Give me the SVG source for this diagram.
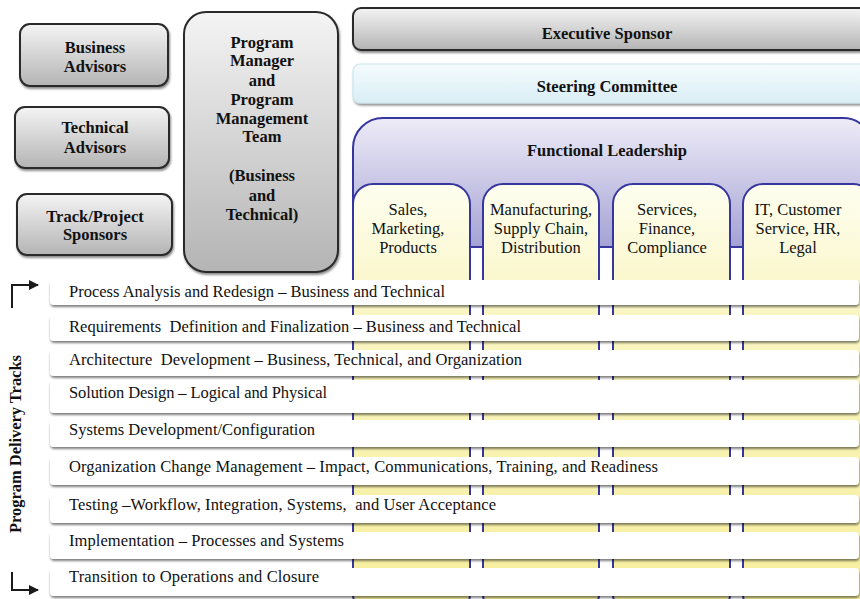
<svg xmlns="http://www.w3.org/2000/svg" width="860" height="599" viewBox="0 0 860 599">
<defs>
  <linearGradient id="gGray" x1="0" y1="0" x2="0" y2="1">
    <stop offset="0" stop-color="#f4f4f4"/>
    <stop offset="1" stop-color="#b4b4b4"/>
  </linearGradient>
  <linearGradient id="gBlue" x1="0" y1="0" x2="0" y2="1">
    <stop offset="0" stop-color="#f4fbfd"/>
    <stop offset="1" stop-color="#d9eef5"/>
  </linearGradient>
  <linearGradient id="gLav" x1="0" y1="0" x2="0" y2="1">
    <stop offset="0" stop-color="#eeecf7"/>
    <stop offset="1" stop-color="#a4a2d4"/>
  </linearGradient>
  <linearGradient id="gYel" gradientUnits="userSpaceOnUse" x1="0" y1="184" x2="0" y2="600">
    <stop offset="0" stop-color="#fefef0"/>
    <stop offset="0.3" stop-color="#faf6c4"/>
    <stop offset="1" stop-color="#f6ee9c"/>
  </linearGradient>
  <filter id="sh" x="-5%" y="-10%" width="110%" height="140%">
    <feDropShadow dx="1" dy="2" stdDeviation="1" flood-color="#000" flood-opacity="0.45"/>
  </filter>
  <filter id="shr" x="-2%" y="-20%" width="104%" height="160%">
    <feDropShadow dx="0.5" dy="2" stdDeviation="0.8" flood-color="#000" flood-opacity="0.5"/>
  </filter>
  <marker id="arr" viewBox="0 0 10 10" refX="9" refY="5" markerWidth="5" markerHeight="5" orient="auto" markerUnits="strokeWidth">
    <path d="M0,0 L10,5 L0,10 z" fill="#1a1a1a"/>
  </marker>
</defs>
<style>
  .gbox { fill: url(#gGray); stroke: #2a2a2a; stroke-width: 2; filter: url(#sh); }
  .bt { font-family: "Liberation Serif", "Times New Roman", serif; font-weight: bold; font-size: 16.5px; fill: #111; text-anchor: middle; }
  .ct { font-family: "Liberation Serif", "Times New Roman", serif; font-size: 16.5px; fill: #111; text-anchor: middle; }
  .col { fill: url(#gYel); stroke: #36369e; stroke-width: 2; }
  .row { fill: #fff; filter: url(#shr); }
  .rt { font-family: "Liberation Serif", "Times New Roman", serif; font-size: 16.5px; fill: #111; white-space: pre; }
  .conn { fill: none; stroke: #1a1a1a; stroke-width: 2; }
</style>

<g id="business-advisors">
  <rect class="gbox" x="20" y="24" width="148" height="62" rx="10"/>
  <text class="bt" x="95" y="53">Business</text>
  <text class="bt" x="95" y="72">Advisors</text>
</g>
<g id="technical-advisors">
  <rect class="gbox" x="15" y="107" width="154" height="61" rx="10"/>
  <text class="bt" x="95" y="133">Technical</text>
  <text class="bt" x="95" y="153">Advisors</text>
</g>
<g id="track-project-sponsors">
  <rect class="gbox" x="17" y="194" width="155" height="61" rx="10"/>
  <text class="bt" x="95" y="222">Track/Project</text>
  <text class="bt" x="95" y="240">Sponsors</text>
</g>
<g id="program-manager">
  <rect class="gbox" x="184" y="12" width="154" height="260" rx="22"/>
  <text class="bt" x="262" y="48">Program</text>
  <text class="bt" x="262" y="66">Manager</text>
  <text class="bt" x="262" y="86">and</text>
  <text class="bt" x="262" y="105">Program</text>
  <text class="bt" x="262" y="124">Management</text>
  <text class="bt" x="262" y="142">Team</text>
  <text class="bt" x="262" y="181">(Business</text>
  <text class="bt" x="262" y="201">and</text>
  <text class="bt" x="262" y="220">Technical)</text>
</g>

<g id="executive-sponsor">
  <rect x="353" y="8" width="515" height="42" rx="8" fill="url(#gGray)" stroke="#2a2a2a" stroke-width="2" filter="url(#sh)"/>
  <text class="bt" x="607" y="39">Executive Sponsor</text>
</g>
<g id="steering-committee">
  <rect x="353" y="64" width="515" height="39" rx="7" fill="url(#gBlue)" stroke="#cbe6ee" stroke-width="1.2" filter="url(#sh)"/>
  <text class="bt" x="607" y="92">Steering Committee</text>
</g>
<g id="functional-leadership">
  <rect x="353" y="118" width="520" height="129" rx="30" fill="url(#gLav)" stroke="#36369e" stroke-width="2"/>
  <rect x="351" y="248" width="515" height="10" fill="#fff"/>
  <text class="bt" x="607" y="156">Functional Leadership</text>
</g>
<g id="col-sales">
  <rect class="col" x="353" y="184" width="117" height="430" rx="20"/>
  <text class="ct" x="408" y="215">Sales,</text>
  <text class="ct" x="408" y="234">Marketing,</text>
  <text class="ct" x="408" y="253">Products</text>
</g>
<g id="col-manufacturing">
  <rect class="col" x="483" y="184" width="116" height="430" rx="20"/>
  <text class="ct" x="541" y="215">Manufacturing,</text>
  <text class="ct" x="541" y="234">Supply Chain,</text>
  <text class="ct" x="541" y="253">Distribution</text>
</g>
<g id="col-services">
  <rect class="col" x="613" y="184" width="117" height="430" rx="20"/>
  <text class="ct" x="667" y="215">Services,</text>
  <text class="ct" x="667" y="234">Finance,</text>
  <text class="ct" x="667" y="253">Compliance</text>
</g>
<g id="col-it">
  <rect class="col" x="743" y="184" width="130" height="430" rx="20"/>
  <text class="ct" x="798" y="215">IT, Customer</text>
  <text class="ct" x="798" y="234">Service, HR,</text>
  <text class="ct" x="798" y="253">Legal</text>
</g>

<g id="tracks">
  <g id="track-1"><rect class="row" x="50" y="280" width="809" height="25" rx="4"/><text class="rt" x="69" y="297" textLength="376">Process Analysis and Redesign – Business and Technical</text></g>
  <g id="track-2"><rect class="row" x="50" y="315" width="809" height="26" rx="4"/><text class="rt" x="69" y="332" textLength="452">Requirements  Definition and Finalization – Business and Technical</text></g>
  <g id="track-3"><rect class="row" x="50" y="350" width="809" height="26" rx="4"/><text class="rt" x="69" y="365" textLength="453">Architecture  Development – Business, Technical, and Organization</text></g>
  <g id="track-4"><rect class="row" x="50" y="380" width="809" height="33" rx="4"/><text class="rt" x="69" y="398" textLength="258">Solution Design – Logical and Physical</text></g>
  <g id="track-5"><rect class="row" x="50" y="420" width="809" height="27" rx="4"/><text class="rt" x="69" y="435" textLength="246">Systems Development/Configuration</text></g>
  <g id="track-6"><rect class="row" x="50" y="457" width="809" height="28" rx="4"/><text class="rt" x="69" y="472" textLength="589">Organization Change Management – Impact, Communications, Training, and Readiness</text></g>
  <g id="track-7"><rect class="row" x="50" y="495" width="809" height="28" rx="4"/><text class="rt" x="69" y="510" textLength="427">Testing –Workflow, Integration, Systems,  and User Acceptance</text></g>
  <g id="track-8"><rect class="row" x="50" y="532" width="809" height="27" rx="4"/><text class="rt" x="69" y="546" textLength="275">Implementation – Processes and Systems</text></g>
  <g id="track-9"><rect class="row" x="50" y="568" width="809" height="28" rx="4"/><text class="rt" x="69" y="582" textLength="250">Transition to Operations and Closure</text></g>
</g>

<g id="program-delivery-tracks">
  <text class="bt" transform="translate(21,444) rotate(-90)" x="0" y="0" textLength="178">Program Delivery Tracks</text>
</g>

<g id="connectors">
  <path class="conn" d="M12,308 V285 H38" marker-end="url(#arr)"/>
  <path class="conn" d="M12,572 V590 H38" marker-end="url(#arr)"/>
</g>
</svg>
